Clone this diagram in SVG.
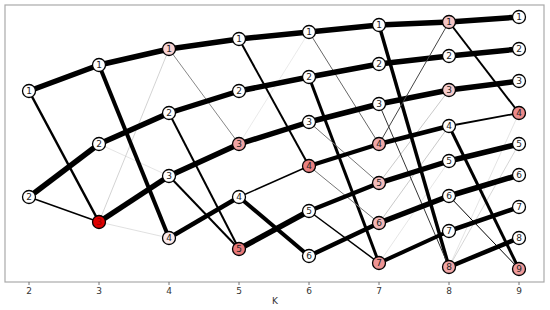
<svg xmlns="http://www.w3.org/2000/svg" width="550" height="310" viewBox="0 0 550 310">
<style>
.e{fill:none;stroke-linecap:butt}
.n circle{stroke:#000;stroke-width:1.3}
.n text{font-family:"DejaVu Sans",sans-serif;font-size:9px;fill:#222;text-anchor:middle;dominant-baseline:central}
.tk{font-family:"DejaVu Sans",sans-serif;font-size:9px;fill:#333;text-anchor:middle}
</style>
<rect x="0" y="0" width="550" height="310" fill="#fff"/>
<rect x="5" y="5" width="539" height="277" fill="none" stroke="#aaa" stroke-width="1.2"/>
<g id="axis" stroke="#555" stroke-width="0.8">
<line x1="29" y1="282" x2="29" y2="285"/><line x1="99" y1="282" x2="99" y2="285"/><line x1="169" y1="282" x2="169" y2="285"/><line x1="239" y1="282" x2="239" y2="285"/><line x1="309" y1="282" x2="309" y2="285"/><line x1="379" y1="282" x2="379" y2="285"/><line x1="449" y1="282" x2="449" y2="285"/><line x1="519" y1="282" x2="519" y2="285"/>
</g>
<g id="ticklabels">
<text class="tk" x="29" y="294">2</text><text class="tk" x="99" y="294">3</text><text class="tk" x="169" y="294">4</text><text class="tk" x="239" y="294">5</text><text class="tk" x="309" y="294">6</text><text class="tk" x="379" y="294">7</text><text class="tk" x="449" y="294">8</text><text class="tk" x="519" y="294">9</text>
<text class="tk" x="275" y="304">K</text>
</g>
<g id="connectors" stroke="#000">
<!-- faint -->
<line class="e" x1="99" y1="144" x2="169" y2="176" stroke="#ddd" stroke-width="0.8"/>
<line class="e" x1="99" y1="222" x2="169" y2="49" stroke="#c8c8c8" stroke-width="0.8"/>
<line class="e" x1="99" y1="222" x2="169" y2="238" stroke="#d8d8d8" stroke-width="0.8"/>
<line class="e" x1="239" y1="144" x2="309" y2="32" stroke="#e4e4e4" stroke-width="0.8"/>
<line class="e" x1="379" y1="183" x2="449" y2="90" stroke="#bbb" stroke-width="0.8"/>
<line class="e" x1="379" y1="223" x2="449" y2="126" stroke="#bbb" stroke-width="0.8"/>
<line class="e" x1="379" y1="263" x2="449" y2="161" stroke="#e0e0e0" stroke-width="0.8"/>
<line class="e" x1="449" y1="267" x2="519" y2="113" stroke="#ddd" stroke-width="0.8"/>
<line class="e" x1="449" y1="267" x2="519" y2="144" stroke="#ccc" stroke-width="0.8"/>
<!-- K2-3 -->
<line class="e" x1="29" y1="91" x2="99" y2="65" stroke-width="5.5"/>
<line class="e" x1="29" y1="91" x2="99" y2="222" stroke-width="2.5"/>
<line class="e" x1="29" y1="197" x2="99" y2="144" stroke-width="5.5"/>
<line class="e" x1="29" y1="197" x2="99" y2="222" stroke-width="1.5"/>
<!-- K3-4 -->
<line class="e" x1="99" y1="65" x2="169" y2="49" stroke-width="5.5"/>
<line class="e" x1="99" y1="65" x2="169" y2="238" stroke-width="4"/>
<line class="e" x1="99" y1="144" x2="169" y2="113" stroke-width="5.5"/>
<line class="e" x1="99" y1="222" x2="169" y2="176" stroke-width="5.5"/>
<!-- K4-5 -->
<line class="e" x1="169" y1="49" x2="239" y2="39" stroke-width="5.5"/>
<line class="e" x1="169" y1="49" x2="239" y2="144" stroke="#888" stroke-width="1"/>
<line class="e" x1="169" y1="113" x2="239" y2="91" stroke-width="5.5"/>
<line class="e" x1="169" y1="113" x2="239" y2="249" stroke-width="2"/>
<line class="e" x1="169" y1="176" x2="239" y2="144" stroke-width="5.5"/>
<line class="e" x1="169" y1="176" x2="239" y2="249" stroke-width="2"/>
<line class="e" x1="169" y1="238" x2="239" y2="197" stroke-width="4.5"/>
<!-- K5-6 -->
<line class="e" x1="239" y1="39" x2="309" y2="32" stroke-width="5.5"/>
<line class="e" x1="239" y1="39" x2="309" y2="166" stroke-width="2"/>
<line class="e" x1="239" y1="91" x2="309" y2="77" stroke-width="5.5"/>
<line class="e" x1="239" y1="144" x2="309" y2="122" stroke-width="5.5"/>
<line class="e" x1="239" y1="197" x2="309" y2="166" stroke-width="1.5"/>
<line class="e" x1="239" y1="197" x2="309" y2="256" stroke-width="4"/>
<line class="e" x1="239" y1="249" x2="309" y2="211" stroke-width="5.5"/>
<!-- K6-7 -->
<line class="e" x1="309" y1="32" x2="379" y2="25" stroke-width="5.5"/>
<line class="e" x1="309" y1="32" x2="379" y2="144" stroke="#666" stroke-width="1"/>
<line class="e" x1="309" y1="77" x2="379" y2="64" stroke-width="5.5"/>
<line class="e" x1="309" y1="77" x2="379" y2="263" stroke-width="3"/>
<line class="e" x1="309" y1="122" x2="379" y2="104" stroke-width="5.5"/>
<line class="e" x1="309" y1="122" x2="379" y2="183" stroke="#777" stroke-width="1"/>
<line class="e" x1="309" y1="166" x2="379" y2="144" stroke-width="4"/>
<line class="e" x1="309" y1="166" x2="379" y2="223" stroke="#777" stroke-width="1"/>
<line class="e" x1="309" y1="211" x2="379" y2="183" stroke-width="4.5"/>
<line class="e" x1="309" y1="211" x2="379" y2="263" stroke-width="1.5"/>
<line class="e" x1="309" y1="256" x2="379" y2="223" stroke-width="4.5"/>
<!-- K7-8 -->
<line class="e" x1="379" y1="25" x2="449" y2="22" stroke-width="5.5"/>
<line class="e" x1="379" y1="25" x2="449" y2="267" stroke-width="3.5"/>
<line class="e" x1="379" y1="64" x2="449" y2="56" stroke-width="5.5"/>
<line class="e" x1="379" y1="104" x2="449" y2="90" stroke-width="5.5"/>
<line class="e" x1="379" y1="104" x2="449" y2="267" stroke="#333" stroke-width="1"/>
<line class="e" x1="379" y1="144" x2="449" y2="126" stroke-width="4.5"/>
<line class="e" x1="379" y1="144" x2="449" y2="22" stroke="#444" stroke-width="1"/>
<line class="e" x1="379" y1="183" x2="449" y2="161" stroke-width="5.5"/>
<line class="e" x1="379" y1="223" x2="449" y2="196" stroke-width="5.5"/>
<line class="e" x1="379" y1="263" x2="449" y2="231" stroke-width="4"/>
<!-- K8-9 -->
<line class="e" x1="449" y1="22" x2="519" y2="17" stroke-width="5.5"/>
<line class="e" x1="449" y1="22" x2="519" y2="113" stroke-width="2"/>
<line class="e" x1="449" y1="56" x2="519" y2="49" stroke-width="5.5"/>
<line class="e" x1="449" y1="90" x2="519" y2="81" stroke-width="5.5"/>
<line class="e" x1="449" y1="126" x2="519" y2="113" stroke-width="1.8"/>
<line class="e" x1="449" y1="126" x2="519" y2="269" stroke-width="3"/>
<line class="e" x1="449" y1="161" x2="519" y2="144" stroke-width="5.5"/>
<line class="e" x1="449" y1="196" x2="519" y2="175" stroke-width="5.5"/>
<line class="e" x1="449" y1="196" x2="519" y2="269" stroke-width="1"/>
<line class="e" x1="449" y1="231" x2="519" y2="207" stroke-width="4.5"/>
<line class="e" x1="449" y1="267" x2="519" y2="238" stroke-width="4.5"/>
</g>
<g id="n2-1" class="n"><circle cx="29" cy="91" r="6.5" fill="#fff"/><text x="29" y="91">1</text></g>
<g id="n2-2" class="n"><circle cx="29" cy="197" r="6.5" fill="#fff"/><text x="29" y="197">2</text></g>
<g id="n3-1" class="n"><circle cx="99" cy="65" r="6.5" fill="#fff"/><text x="99" y="65">1</text></g>
<g id="n3-2" class="n"><circle cx="99" cy="144" r="6.5" fill="#fff"/><text x="99" y="144">2</text></g>
<g id="n3-3" class="n"><circle cx="99" cy="222" r="6.5" fill="#dd0000"/><text x="99" y="222" style="fill:#900">3</text></g>
<g id="n4-1" class="n"><circle cx="169" cy="49" r="6.5" fill="#f8d2d2"/><text x="169" y="49">1</text></g>
<g id="n4-2" class="n"><circle cx="169" cy="113" r="6.5" fill="#fff"/><text x="169" y="113">2</text></g>
<g id="n4-3" class="n"><circle cx="169" cy="176" r="6.5" fill="#fff"/><text x="169" y="176">3</text></g>
<g id="n4-4" class="n"><circle cx="169" cy="238" r="6.5" fill="#fbeaea"/><text x="169" y="238">4</text></g>
<g id="n5-1" class="n"><circle cx="239" cy="39" r="6.5" fill="#fff"/><text x="239" y="39">1</text></g>
<g id="n5-2" class="n"><circle cx="239" cy="91" r="6.5" fill="#fff"/><text x="239" y="91">2</text></g>
<g id="n5-3" class="n"><circle cx="239" cy="144" r="6.5" fill="#f0a4a4"/><text x="239" y="144">3</text></g>
<g id="n5-4" class="n"><circle cx="239" cy="197" r="6.5" fill="#fff"/><text x="239" y="197">4</text></g>
<g id="n5-5" class="n"><circle cx="239" cy="249" r="6.5" fill="#e87878"/><text x="239" y="249">5</text></g>
<g id="n6-1" class="n"><circle cx="309" cy="32" r="6.5" fill="#fff"/><text x="309" y="32">1</text></g>
<g id="n6-2" class="n"><circle cx="309" cy="77" r="6.5" fill="#fff"/><text x="309" y="77">2</text></g>
<g id="n6-3" class="n"><circle cx="309" cy="122" r="6.5" fill="#fff"/><text x="309" y="122">3</text></g>
<g id="n6-4" class="n"><circle cx="309" cy="166" r="6.5" fill="#ea8080"/><text x="309" y="166">4</text></g>
<g id="n6-5" class="n"><circle cx="309" cy="211" r="6.5" fill="#fff"/><text x="309" y="211">5</text></g>
<g id="n6-6" class="n"><circle cx="309" cy="256" r="6.5" fill="#fff"/><text x="309" y="256">6</text></g>
<g id="n7-1" class="n"><circle cx="379" cy="25" r="6.5" fill="#fff"/><text x="379" y="25">1</text></g>
<g id="n7-2" class="n"><circle cx="379" cy="64" r="6.5" fill="#fff"/><text x="379" y="64">2</text></g>
<g id="n7-3" class="n"><circle cx="379" cy="104" r="6.5" fill="#fff"/><text x="379" y="104">3</text></g>
<g id="n7-4" class="n"><circle cx="379" cy="144" r="6.5" fill="#f0a8a8"/><text x="379" y="144">4</text></g>
<g id="n7-5" class="n"><circle cx="379" cy="183" r="6.5" fill="#f4bcbc"/><text x="379" y="183">5</text></g>
<g id="n7-6" class="n"><circle cx="379" cy="223" r="6.5" fill="#f3b6b6"/><text x="379" y="223">6</text></g>
<g id="n7-7" class="n"><circle cx="379" cy="263" r="6.5" fill="#ee9494"/><text x="379" y="263">7</text></g>
<g id="n8-1" class="n"><circle cx="449" cy="22" r="6.5" fill="#f4c4c4"/><text x="449" y="22">1</text></g>
<g id="n8-2" class="n"><circle cx="449" cy="56" r="6.5" fill="#fff"/><text x="449" y="56">2</text></g>
<g id="n8-3" class="n"><circle cx="449" cy="90" r="6.5" fill="#f6cccc"/><text x="449" y="90">3</text></g>
<g id="n8-4" class="n"><circle cx="449" cy="126" r="6.5" fill="#fff"/><text x="449" y="126">4</text></g>
<g id="n8-5" class="n"><circle cx="449" cy="161" r="6.5" fill="#fff"/><text x="449" y="161">5</text></g>
<g id="n8-6" class="n"><circle cx="449" cy="196" r="6.5" fill="#fff"/><text x="449" y="196">6</text></g>
<g id="n8-7" class="n"><circle cx="449" cy="231" r="6.5" fill="#fff"/><text x="449" y="231">7</text></g>
<g id="n8-8" class="n"><circle cx="449" cy="267" r="6.5" fill="#f1a6a6"/><text x="449" y="267">8</text></g>
<g id="n9-1" class="n"><circle cx="519" cy="17" r="6.5" fill="#fff"/><text x="519" y="17">1</text></g>
<g id="n9-2" class="n"><circle cx="519" cy="49" r="6.5" fill="#fff"/><text x="519" y="49">2</text></g>
<g id="n9-3" class="n"><circle cx="519" cy="81" r="6.5" fill="#fff"/><text x="519" y="81">3</text></g>
<g id="n9-4" class="n"><circle cx="519" cy="113" r="6.5" fill="#ec8a8a"/><text x="519" y="113">4</text></g>
<g id="n9-5" class="n"><circle cx="519" cy="144" r="6.5" fill="#fff"/><text x="519" y="144">5</text></g>
<g id="n9-6" class="n"><circle cx="519" cy="175" r="6.5" fill="#fff"/><text x="519" y="175">6</text></g>
<g id="n9-7" class="n"><circle cx="519" cy="207" r="6.5" fill="#fff"/><text x="519" y="207">7</text></g>
<g id="n9-8" class="n"><circle cx="519" cy="238" r="6.5" fill="#fff"/><text x="519" y="238">8</text></g>
<g id="n9-9" class="n"><circle cx="519" cy="269" r="6.5" fill="#ee9a9a"/><text x="519" y="269">9</text></g>
</svg>
